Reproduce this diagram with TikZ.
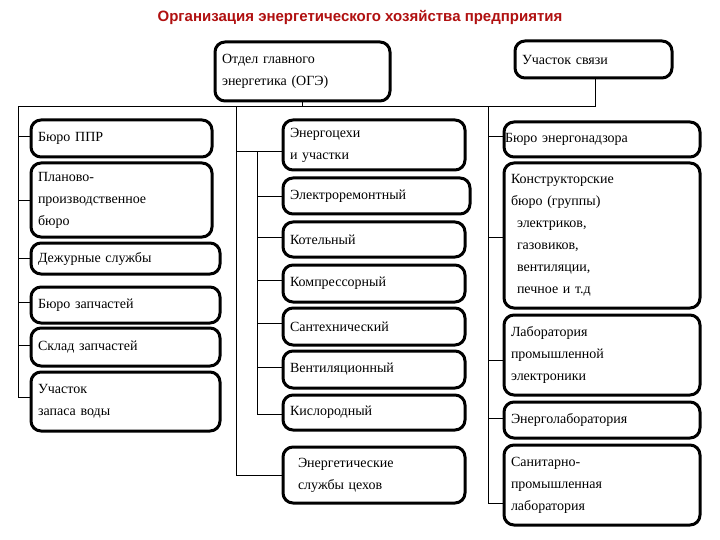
\documentclass[tikz,border=0pt]{standalone}
\usepackage{fontspec}
\setmainfont{Liberation Serif}
\newfontfamily\titlefont{Liberation Sans}
\definecolor{ttl}{HTML}{B01010}
\newcommand{\mybox}[6]{%
  \pgfmathsetmacro\bw{#4-#2}\pgfmathsetmacro\bh{#5-#3}%
  \pgfmathsetmacro\tw{#4-#2-14}%
  \node[bx,minimum width=\bw pt,minimum height=\bh pt,text width=\tw pt] (#1) at ({(#2+#4)/2},{(#3+#5)/2}) {#6};}
\begin{document}
\begin{tikzpicture}[x=1pt,y=-1pt,
  bx/.style={draw,line width=3pt,rounded corners=10pt,inner sep=0pt,align=left,
    font=\fontsize{14}{22}\selectfont},
  ln/.style={line width=1pt}]
\useasboundingbox (0,0) rectangle (720,540);
\node[font=\titlefont\bfseries\fontsize{15}{17}\selectfont,text=ttl] (title) at (360,17) {Организация энергетического хозяйства предприятия};
\mybox{oge}{215}{42}{390}{101}{Отдел главного\\энергетика (ОГЭ)}
\mybox{svz}{515}{41}{672}{78}{Участок связи}
% left
\mybox{ppr}{31}{120}{212}{157}{Бюро ППР}
\mybox{plan}{31}{163}{212}{237}{Планово-\\производственное\\бюро}
\mybox{dezh}{31}{243}{220}{274}{Дежурные службы}
\mybox{bzap}{31}{287}{220}{323}{Бюро запчастей}
\mybox{sklad}{31}{328}{220}{366}{Склад запчастей}
\mybox{voda}{31}{372}{220}{431}{Участок\\запаса воды}
% middle
\mybox{ec}{283}{120}{465}{170}{Энергоцехи\\и участки}
\mybox{elr}{283}{178}{470}{214}{Электроремонтный}
\mybox{kot}{283}{222}{465}{257}{Котельный}
\mybox{komp}{283}{265}{465}{302}{Компрессорный}
\mybox{sant}{283}{308}{465}{345}{Сантехнический}
\mybox{vent}{283}{351}{465}{388}{Вентиляционный}
\mybox{kisl}{283}{395}{465}{430}{Кислородный}
\mybox{esl}{283}{447}{465}{503}{\hspace{8pt}Энергетические\\\hspace{8pt}службы цехов}
% right
\mybox{nadz}{504}{122}{700}{157}{\hspace{-6pt}Бюро энергонадзора}
\mybox{kb}{504}{163}{700}{308}{Конструкторские\\бюро (группы)\\\hspace{6pt}электриков,\\\hspace{6pt}газовиков,\\\hspace{6pt}вентиляции,\\\hspace{6pt}печное и т.д}
\mybox{lab}{504}{315}{700}{395}{Лаборатория\\промышленной\\электроники}
\mybox{enl}{504}{402}{700}{438}{Энерголаборатория}
\mybox{san}{504}{445}{700}{525}{Санитарно-\\промышленная\\лаборатория}
% bus
\coordinate (bl) at (18,107);
\coordinate (br) at (595,107);
\coordinate (bm) at (236,107);
\coordinate (brr) at (488,107);
\draw[ln] (bl) -- (br);
\draw[ln] (oge.south) -- (oge.south |- bl);
\draw[ln] (svz.south -| br) -- (br);
\coordinate (lend) at (18,397);
\draw[ln] (bl) -- (lend) -- (voda.west |- lend);
\foreach \n/\yy in {ppr/137,plan/201,dezh/258,bzap/302,sklad/345}
  \draw[ln] (18,\yy) -- (\n.west |- 0,\yy);
\coordinate (mend) at (236,475);
\draw[ln] (bm) -- (mend) -- (esl.west |- mend);
\coordinate (ec1) at (236,152);
\coordinate (in1) at (257,152);
\coordinate (in2) at (257,414);
\draw[ln] (ec1) -- (ec.west |- ec1);
\draw[ln] (in1) -- (in2) -- (kisl.west |- in2);
\foreach \n/\yy in {elr/197,kot/237,komp/280,sant/323,vent/367}
  \draw[ln] (257,\yy) -- (\n.west |- 0,\yy);
\coordinate (rend) at (488,503);
\draw[ln] (brr) -- (rend) -- (san.west |- rend);
\foreach \n/\yy in {nadz/137,kb/237,lab/360,enl/418}
  \draw[ln] (488,\yy) -- (\n.west |- 0,\yy);
\end{tikzpicture}
\end{document}
